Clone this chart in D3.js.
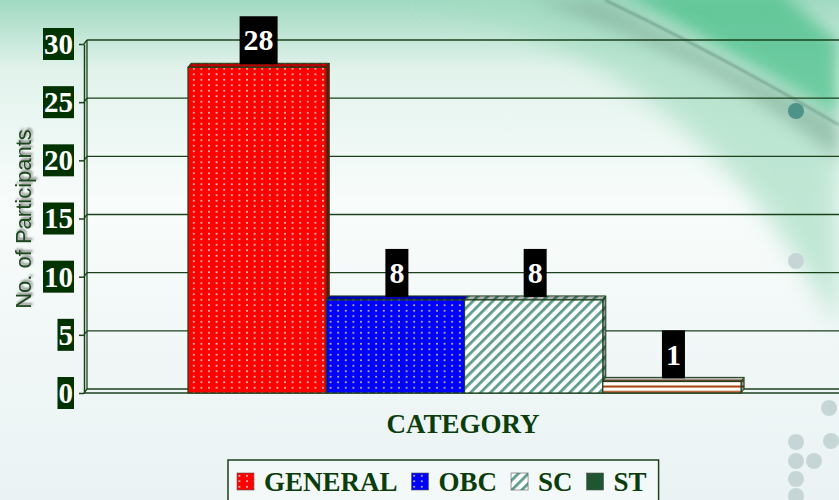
<!DOCTYPE html>
<html>
<head>
<meta charset="utf-8">
<script src="https://cdn.jsdelivr.net/npm/d3@7"></script>
<style>
  body { margin: 0; padding: 0; overflow: hidden; }
  svg { display: block; }
</style>
</head>
<body>
<script>
var width = 839
var height = 500

// chart data
var categories = ["GENERAL", "OBC", "SC", "ST"]
var participants = [28, 8, 8, 1]
var yTicks = [0, 5, 10, 15, 20, 25, 30]
var legendFills = ["url(#redDots)", "url(#blueDots)", "url(#scStripes)", "#1f5530"]
var barFills = ["url(#redDots)", "url(#blueDots)", "url(#scStripes)", "url(#stStripes)"]

var dark = "#1b421b"
var depth = { dx: 3, dy: -4 }
var serif = "'Liberation Serif', 'Times New Roman', serif"

var svg = d3.select("body")
    .append("svg")
        .attr("width", width)
        .attr("height", height)

var defs = svg.append("defs")

// background gradient
var bg = defs.append("linearGradient").attr("id", "bgGrad")
    .attr("x1", 0).attr("y1", 0).attr("x2", 0).attr("y2", 1)
bg.append("stop").attr("offset", "0%").attr("stop-color", "#a0d9c1")
bg.append("stop").attr("offset", "14%").attr("stop-color", "#e2f3ec")
bg.append("stop").attr("offset", "40%").attr("stop-color", "#f8fcfb")
bg.append("stop").attr("offset", "100%").attr("stop-color", "#eaf2f3")

function blur(id, s) {
    defs.append("filter").attr("id", id)
        .attr("x", "-30%").attr("y", "-30%").attr("width", "160%").attr("height", "160%")
        .append("feGaussianBlur").attr("stdDeviation", s)
}
blur("blur12", 12)
blur("blur8", 8)
blur("blur6", 6)
blur("blur1", 0.8)
defs.append("filter").attr("id", "shadow").attr("x", "-20%").attr("y", "-20%").attr("width", "140%").attr("height", "140%")
    .append("feDropShadow").attr("dx", 2).attr("dy", 1.5).attr("stdDeviation", 1.3)
    .attr("flood-color", "#555").attr("flood-opacity", 0.75)

// patterns
function dots(id, bgc, dotc) {
    var p = defs.append("pattern").attr("id", id)
        .attr("patternUnits", "userSpaceOnUse").attr("width", 7.6).attr("height", 5.5)
    p.append("rect").attr("width", 7.6).attr("height", 5.5).attr("fill", bgc)
    p.append("circle").attr("cx", 3.8).attr("cy", 2.75).attr("r", 1).attr("fill", dotc)
}
dots("redDots", "#ff0000", "#ffd8d8")
dots("blueDots", "#0000ff", "#d8d060")

var sc = defs.append("pattern").attr("id", "scStripes")
    .attr("patternUnits", "userSpaceOnUse").attr("width", 7).attr("height", 7)
    .attr("patternTransform", "rotate(45)")
sc.append("rect").attr("width", 7).attr("height", 7).attr("fill", "#ffffff")
sc.append("rect").attr("width", 2.8).attr("height", 7).attr("fill", "#5e9c8c")

var st = defs.append("pattern").attr("id", "stStripes")
    .attr("patternUnits", "userSpaceOnUse").attr("width", 10).attr("height", 5.5)
st.append("rect").attr("width", 10).attr("height", 5.5).attr("fill", "#ffffff")
st.append("rect").attr("y", 0.5).attr("width", 10).attr("height", 2).attr("fill", "#a8400c")

// background
svg.append("rect").attr("width", width).attr("height", height).attr("fill", "url(#bgGrad)")
var deco = svg.append("g")
deco.append("path")
    .attr("d", "M420,0 Q700,60 839,330 L839,130 Q760,60 600,0 Z")
    .attr("fill", "#a2dbc0").attr("opacity", 0.65).attr("filter", "url(#blur12)")
deco.append("path")
    .attr("d", "M530,0 Q720,60 839,160 L839,120 L600,0 Z")
    .attr("fill", "#86b49e").attr("opacity", 0.7).attr("filter", "url(#blur8)")
deco.append("path")
    .attr("d", "M620,-10 L839,118 L839,40 Q800,10 780,-10 Z")
    .attr("fill", "#58c493").attr("opacity", 0.85).attr("filter", "url(#blur8)")
deco.append("path")
    .attr("d", "M605,0 Q720,55 839,125")
    .attr("fill", "none").attr("stroke", "#4f7f6e").attr("stroke-width", 2)
    .attr("opacity", 0.6).attr("filter", "url(#blur1)")
deco.append("circle").attr("cx", 796).attr("cy", 111).attr("r", 8).attr("fill", "#3f8a80").attr("opacity", 0.85)
var greyDots = [[796, 261], [829, 408], [831, 441], [796, 442], [796, 461], [814, 461], [796, 479], [796, 496]]
deco.selectAll("circle.g").data(greyDots).enter().append("circle")
    .attr("class", "g")
    .attr("cx", function(d) { return d[0] })
    .attr("cy", function(d) { return d[1] })
    .attr("r", 8).attr("fill", "#c6d6d6")

// scales
var x = d3.scaleBand()
    .domain(categories)
    .range([84, 839])
    .paddingInner(0)
    .paddingOuter(0.73)
    .align(0.515)

var y = d3.scaleLinear()
    .domain([0, 30])
    .range([393, 44])

var x0 = x.range()[0]
var x1 = x.range()[1]

// back wall gridlines
svg.append("g")
    .selectAll("line")
    .data(yTicks)
    .enter()
    .append("line")
        .attr("x1", x0 + depth.dx)
        .attr("x2", x1)
        .attr("y1", function(d) { return y(d) + depth.dy })
        .attr("y2", function(d) { return y(d) + depth.dy })
        .attr("stroke", dark)
        .attr("stroke-width", 1.3)

// left wall and floor
var walls = svg.append("g").attr("fill", "none").attr("stroke", dark).attr("stroke-width", 1.3)
walls.append("line")
    .attr("x1", x0 + depth.dx).attr("x2", x0 + depth.dx)
    .attr("y1", y(30) + depth.dy).attr("y2", y(0) + depth.dy)
walls.append("line")
    .attr("x1", x0).attr("x2", x1)
    .attr("y1", y(0)).attr("y2", y(0))
    .attr("stroke-width", 1.6)
walls.selectAll("path.edge").data(yTicks).enter().append("path")
    .attr("class", "edge")
    .attr("d", function(d) { return "M" + x0 + "," + y(d) + "l" + depth.dx + "," + depth.dy })

// y axis (ticks)
var yAxis = svg.append("g")
    .attr("transform", "translate(" + x0 + ",0)")
    .call(d3.axisLeft(y).tickValues(yTicks).tickSize(5).tickSizeOuter(0).tickFormat(""))
yAxis.selectAll("path, line").attr("stroke", dark).attr("stroke-width", 1.5)

// y tick label boxes
var tickLabels = svg.append("g")
    .selectAll("g")
    .data(yTicks)
    .enter()
    .append("g")
        .attr("transform", function(d) { return "translate(74," + y(d) + ")" })
tickLabels.append("rect").attr("fill", "#003300")
tickLabels.append("text")
    .text(function(d) { return d })
    .attr("x", -1)
    .attr("dy", "0.34em")
    .attr("text-anchor", "end")
    .style("font-family", serif)
    .style("font-weight", "bold")
    .style("font-size", "29px")
    .attr("fill", "#ffffff")
tickLabels.each(function() {
    var g = d3.select(this)
    var w = g.select("text").node().getComputedTextLength()
    g.select("rect").attr("x", -w - 2).attr("y", -16).attr("width", w + 2).attr("height", 32)
})

// bars
var bars = svg.append("g")
    .selectAll("g")
    .data(participants)
    .enter()
    .append("g")

function face(kind) {
    return function(d, i) {
        var bx = x(categories[i]), w = x.bandwidth(), yt = y(d), yb = y(0)
        if (kind == "top")
            return [[bx, yt], [bx + depth.dx, yt + depth.dy], [bx + w + depth.dx, yt + depth.dy], [bx + w, yt]].join(" ")
        return [[bx + w, yt], [bx + w + depth.dx, yt + depth.dy], [bx + w + depth.dx, yb + depth.dy], [bx + w, yb]].join(" ")
    }
}

bars.append("polygon").attr("points", face("side"))
    .attr("fill", function(d, i) { return barFills[i] })
bars.append("polygon").attr("points", face("side"))
    .attr("fill", "rgba(0,0,0,0.4)").attr("stroke", dark).attr("stroke-width", 1)
bars.append("polygon").attr("points", face("top"))
    .attr("fill", function(d, i) { return barFills[i] })
bars.append("polygon").attr("points", face("top"))
    .attr("fill", "rgba(0,0,0,0.3)").attr("stroke", dark).attr("stroke-width", 1)
bars.append("rect")
    .attr("x", function(d, i) { return x(categories[i]) })
    .attr("y", function(d) { return y(d) })
    .attr("width", x.bandwidth())
    .attr("height", function(d) { return y(0) - y(d) })
    .attr("fill", function(d, i) { return barFills[i] })
    .attr("stroke", dark)
    .attr("stroke-width", 1.2)

// value labels
var valueLabels = svg.append("g")
    .selectAll("g")
    .data(participants)
    .enter()
    .append("g")
        .attr("transform", function(d, i) {
            return "translate(" + (x(categories[i]) + x.bandwidth() / 2 + depth.dx / 2) + "," + (y(d) - 27) + ")"
        })
valueLabels.append("rect").attr("fill", "#000000")
valueLabels.append("text")
    .text(function(d) { return d })
    .attr("dy", "0.34em")
    .attr("text-anchor", "middle")
    .style("font-family", serif)
    .style("font-weight", "bold")
    .style("font-size", "30px")
    .attr("fill", "#ffffff")
valueLabels.each(function() {
    var g = d3.select(this)
    var w = g.select("text").node().getComputedTextLength()
    g.select("rect").attr("x", -w / 2 - 4).attr("y", -24).attr("width", w + 8).attr("height", 48)
})

// axis titles
svg.append("text")
    .text("No. of Participants")
    .attr("transform", "translate(31,219) rotate(-90)")
    .attr("text-anchor", "middle")
    .style("font-family", "'Liberation Sans', Arial, sans-serif")
    .style("font-size", "22px")
    .attr("fill", "#1f4a1f")
    .attr("filter", "url(#shadow)")

svg.append("text")
    .text("CATEGORY")
    .attr("x", 463)
    .attr("y", 433)
    .attr("text-anchor", "middle")
    .style("font-family", serif)
    .style("font-weight", "bold")
    .style("font-size", "27px")
    .attr("fill", "#0b3d0b")

// legend
var legend = svg.append("g")
var legendBox = legend.append("rect")
    .attr("x", 228).attr("y", 460).attr("height", 60)
    .attr("fill", "rgba(248,252,252,0.6)")
    .attr("stroke", dark).attr("stroke-width", 1.5)

var lx = 237
categories.forEach(function(c, i) {
    legend.append("rect")
        .attr("x", lx).attr("y", 473).attr("width", 17).attr("height", 17)
        .attr("fill", legendFills[i])
        .attr("stroke", "#555").attr("stroke-width", 0.6)
    var t = legend.append("text")
        .text(c)
        .attr("x", lx + 27).attr("y", 491)
        .style("font-family", serif)
        .style("font-weight", "bold")
        .style("font-size", "27px")
        .attr("fill", "#0b3d0b")
    lx = lx + 27 + t.node().getComputedTextLength() + 14
})
legendBox.attr("width", lx - 14 + 12 - 228)
</script>
</body>
</html>
